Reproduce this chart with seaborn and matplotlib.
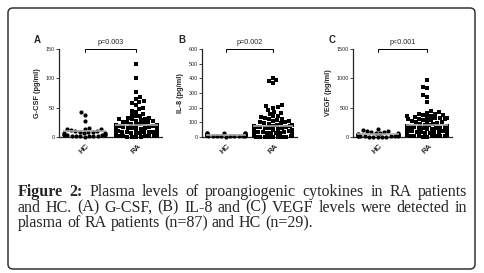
import warnings
import matplotlib
matplotlib.use("Agg")
import matplotlib.pyplot as plt
from matplotlib.patches import FancyBboxPatch
from matplotlib.transforms import IdentityTransform
import numpy as np
import pandas as pd
import seaborn as sns

warnings.filterwarnings("ignore")

groups = ["HC", "RA"]

gcsf_hc = [42, 38, 28, 15, 14, 13, 13, 12, 11, 10, 9, 9, 8, 7, 7, 6, 5, 5, 4, 4,
           3, 3, 2, 2, 2, 1, 1, 1, 0]
gcsf_ra = [125, 100, 76, 68, 65, 62, 60, 58, 55, 50, 48, 45, 42, 40, 38, 36, 35, 33,
           32, 31, 30, 30, 29, 28, 27, 26, 25, 25, 24, 23, 22, 21, 20, 20, 19, 18,
           17, 17, 16, 15, 15, 14, 14, 13, 13, 12, 12, 11, 11, 10, 10, 10, 9, 9, 8,
           8, 8, 7, 7, 7, 6, 6, 6, 5, 5, 5, 5, 4, 4, 4, 4, 3, 3, 3, 3, 2, 2, 2, 2,
           1, 1, 1, 1, 0, 0, 0, 0]

il8_hc = [28, 27, 26, 25, 24, 22, 21, 20, 19, 18, 17, 16, 15, 15, 14, 13, 12, 12,
          11, 10, 10, 9, 8, 8, 7, 6, 5, 4, 3]
il8_ra = [405, 390, 380, 370, 215, 210, 205, 200, 185, 170, 165, 160, 145, 140, 135,
          130, 125, 120, 115, 110, 108, 105, 100, 98, 95, 90, 85, 80, 78, 75, 72, 70,
          68, 65, 62, 60, 58, 55, 52, 50, 48, 45, 42, 40, 38, 36, 34, 32, 30, 28, 26,
          25, 24, 22, 20, 19, 18, 17, 16, 15, 14, 13, 12, 12, 11, 10, 10, 9, 9, 8, 8,
          7, 7, 6, 6, 5, 5, 4, 4, 3, 3, 2, 2, 2, 1, 1, 0]

vegf_hc = [130, 120, 110, 100, 90, 80, 70, 65, 60, 55, 50, 45, 40, 38, 35, 30, 28,
           25, 22, 20, 18, 15, 12, 10, 8, 6, 5, 3, 2]
vegf_ra = [980, 850, 830, 720, 690, 600, 450, 420, 410, 400, 390, 380, 370, 360, 350,
           345, 340, 330, 330, 320, 310, 300, 300, 295, 290, 280, 270, 260, 250, 240,
           230, 220, 210, 200, 190, 185, 180, 175, 170, 165, 160, 155, 150, 150, 145,
           140, 135, 130, 125, 120, 120, 115, 110, 105, 100, 100, 95, 90, 85, 80, 78,
           75, 70, 70, 65, 60, 58, 55, 50, 48, 45, 42, 40, 38, 35, 32, 30, 28, 25, 22,
           20, 18, 15, 12, 10, 8, 5]

letters = ["A", "B", "C"]
ylabels = ["G-CSF (pg/ml)", "IL-8 (pg/ml)", "VEGF (pg/ml)"]
yticks = [[0, 50, 100, 150], [0, 100, 200, 300, 400, 500, 600], [0, 500, 1000, 1500]]
pvals = ["p=0.003", "p=0.002", "p<0.001"]
hc_data = [gcsf_hc, il8_hc, vegf_hc]
ra_data = [gcsf_ra, il8_ra, vegf_ra]

caption1 = "Plasma levels of proangiogenic cytokines in RA patients"
caption2 = "and HC. (A) G-CSF, (B) IL-8 and (C) VEGF levels were detected in"
caption3 = "plasma of RA patients (n=87) and HC (n=29)."

sns.set_style("ticks")
plt.rcParams["font.family"] = ["Liberation Sans", "DejaVu Sans"]

W, H = 485, 273
fig = plt.figure(figsize=(W / 100, H / 100), dpi=100)

# axes boxes in pixels: left, right, top, bottom
boxes = [(59, 162, 49, 137), (202, 297, 49, 137), (353, 452, 49, 137)]

for i in range(3):
    l, r, t, b = boxes[i]
    ax = fig.add_axes([l / W, (H - b) / H, (r - l) / W, (b - t) / H])
    df = pd.DataFrame({
        "group": ["HC"] * len(hc_data[i]) + ["RA"] * len(ra_data[i]),
        "value": hc_data[i] + ra_data[i],
    })
    sns.swarmplot(data=df[df.group == "HC"], x="group", y="value", order=groups,
                  marker="o", size=3.0, color="black", linewidth=0, ax=ax,
                  clip_on=False)
    sns.swarmplot(data=df[df.group == "RA"], x="group", y="value", order=groups,
                  marker="s", size=3.0, color="black", linewidth=0, ax=ax,
                  clip_on=False)
    for j, g in enumerate(groups):
        m = df[df.group == g].value.mean()
        ax.hlines(m, j - 0.42, j + 0.42, color="#aaaaaa", lw=1.2, zorder=5)
    ax.set_xlim(-0.5, 1.5)
    ax.set_ylim(0, yticks[i][-1])
    ax.set_yticks(yticks[i])
    ax.set_xlabel("")
    ax.set_ylabel(ylabels[i], fontsize=5.3, fontweight="bold", labelpad=3)
    ax.tick_params(axis="y", labelsize=3.9, length=2, width=0.6, pad=1)
    ax.tick_params(axis="x", length=0, pad=4)
    ax.set_xticks([0, 1])
    ax.set_xticklabels(groups, rotation=45, fontsize=5.6, fontweight="bold",
                       ha="center", va="top")
    sns.despine(ax=ax)
    for s in ["left", "bottom"]:
        ax.spines[s].set_linewidth(0.9)
    # significance bracket
    ax.plot([0, 0, 1, 1], [0.965, 1.0, 1.0, 0.965], color="black", lw=0.7,
            transform=ax.get_xaxis_transform(), clip_on=False)
    ax.text(0.5, 1.035, pvals[i], fontsize=5.2, ha="center", va="bottom",
            transform=ax.get_xaxis_transform())
    ax.text(-0.21, 1.1, letters[i], fontsize=7, fontweight="bold",
            ha="center", va="center", transform=ax.transAxes)

# outer rounded frame
frame = FancyBboxPatch((8, 4), 467, 261, boxstyle="round,pad=0,rounding_size=5",
                       fill=False, edgecolor="#333333", lw=1.1,
                       transform=IdentityTransform())
fig.add_artist(frame)

# caption, justified like a journal figure legend
renderer = fig.canvas.get_renderer()
fs = 11.5


def put_line(words, y, x0, x1, justify=True):
    texts = []
    for w, wt in words:
        texts.append(fig.text(0, y, w, fontsize=fs, fontweight=wt,
                              family=["Liberation Serif", "DejaVu Serif"],
                              va="baseline", transform=IdentityTransform()))
    widths = [t.get_window_extent(renderer).width for t in texts]
    space = fig.text(0, 0, "a a", fontsize=fs, family="Liberation Serif")
    sw = space.get_window_extent(renderer).width
    space.set_text("aa")
    sw -= space.get_window_extent(renderer).width
    space.remove()
    gap = (x1 - x0 - sum(widths)) / (len(texts) - 1) if justify else sw
    x = x0
    for t, w in zip(texts, widths):
        t.set_x(x)
        x += w + gap


x0, x1 = 18, 467
line1 = [("Figure", "bold"), ("2:", "bold")] + [(w, "normal") for w in caption1.split()]
line2 = [(w, "normal") for w in caption2.split()]
line3 = [(w, "normal") for w in caption3.split()]
put_line(line1, H - 196, x0, x1)
put_line(line2, H - 211.5, x0, x1)
put_line(line3, H - 227, x0, x1, justify=False)

fig.savefig("out.png", dpi=100)
